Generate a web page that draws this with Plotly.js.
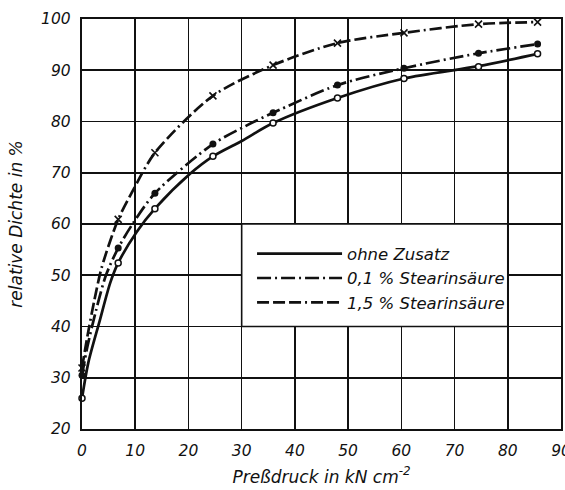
<!DOCTYPE html>
<html>
<head>
<meta charset="utf-8">
<script src="https://cdn.plot.ly/plotly-3.0.1.min.js"></script>
<style>html,body{margin:0;padding:0;background:#fff;overflow:hidden;}#chart{width:565px;height:490px;}</style>
</head>
<body>
<div id="chart"></div>
<script>
// Measured points (pressure in kN cm^-2) and relative density in %
const pressure = [0, 6.8, 13.7, 24.6, 35.9, 48, 60.5, 74.5, 85.6];
const ohneZusatz = [26, 52.4, 63, 73.2, 79.7, 84.6, 88.4, 90.7, 93.2];
const stearin01 = [30.5, 55.3, 66, 75.6, 81.7, 87.1, 90.4, 93.3, 95.1];
const stearin15 = [31.9, 60.9, 73.9, 85, 91, 95.3, 97.3, 99, 99.4];

// Curves
const curveOhneX = [0, 1.2, 3.3, 5.3, 6.8, 10.3, 13.7, 20.3, 24.6, 30, 35.9, 48, 60.5, 74.5, 85.6];
const curveOhneY = [26, 33, 41, 48.5, 52.4, 58.5, 63, 69.8, 73.2, 76.2, 79.7, 84.6, 88.4, 90.8, 93.2];
const curve01X = [0, 1, 2.6, 4.5, 6.8, 9.5, 13.7, 24.6, 30.9, 35.9, 48, 60.5, 74.5, 85.6];
const curve01Y = [30.5, 36, 43, 50, 55.3, 60, 66, 75.6, 79.2, 81.7, 87.1, 90.4, 93.3, 95.1];
const curve15X = [0, 1, 2.3, 3.7, 6.8, 9.5, 13.7, 24.6, 35.9, 48, 60.5, 74.5, 85.6];
const curve15Y = [31.9, 38, 45, 51.5, 60.9, 66.4, 73.9, 85, 91, 95.3, 97.3, 99, 99.4];

const seriesNames = ['ohne Zusatz', '0,1 % Stearinsäure', '1,5 % Stearinsäure'];
const xTicks = [0, 10, 20, 30, 40, 50, 60, 70, 80, 90];
const yTicks = [20, 30, 40, 50, 60, 70, 80, 90, 100];

const FONT = 'DejaVu Sans, Liberation Sans, sans-serif';
const lw = 2.7;

const traces = [
  {x: curveOhneX, y: curveOhneY, name: seriesNames[0], mode: 'lines',
   line: {color: '#111', width: lw, shape: 'spline', smoothing: 0.8}},
  {x: curve01X, y: curve01Y, name: seriesNames[1], mode: 'lines',
   line: {color: '#111', width: lw, shape: 'spline', smoothing: 0.8, dash: '14px,4px,2px,4px'}},
  {x: curve15X, y: curve15Y, name: seriesNames[2], mode: 'lines',
   line: {color: '#111', width: lw, shape: 'spline', smoothing: 0.8, dash: '12px,4px,12px,4px,12px,4px,2px,4px'}},
  {x: pressure, y: ohneZusatz, mode: 'markers', showlegend: false, cliponaxis: false,
   marker: {symbol: 'circle', size: 6, color: '#fff', line: {color: '#111', width: 1.5}}},
  {x: pressure, y: stearin01, mode: 'markers', showlegend: false, cliponaxis: false,
   marker: {symbol: 'circle', size: 7, color: '#111'}},
  {x: pressure, y: stearin15, mode: 'markers', showlegend: false, cliponaxis: false,
   marker: {symbol: 'x-thin', size: 7, line: {color: '#111', width: 1.6}}}
];

const axisCommon = {
  showgrid: true, gridcolor: '#111', gridwidth: 1.6,
  showline: true, linecolor: '#111', linewidth: 2.2, mirror: true,
  zeroline: false, ticks: '', fixedrange: true,
  ticklabeloverflow: 'allow',
  tickfont: {family: FONT, size: 15.5, color: '#111', style: 'italic'}
};

const layout = {
  width: 565, height: 490,
  margin: {l: 82, r: 4, t: 19, b: 61},
  paper_bgcolor: '#fff', plot_bgcolor: '#fff',
  showlegend: true,
  legend: {
    x: 0.355, y: 0.47, xanchor: 'left', yanchor: 'top',
    bgcolor: 'rgba(0,0,0,0)', borderwidth: 0,
    itemwidth: 85, tracegroupgap: 0,
    font: {family: FONT, size: 16.5, color: '#111', style: 'italic'}
  },
  xaxis: Object.assign({}, axisCommon, {
    range: [0, 90], tickvals: xTicks, ticktext: xTicks.map(String),
    ticklabelstandoff: 6,
    title: {text: 'Preßdruck in kN cm<sup>-2</sup>', standoff: 12,
            font: {family: FONT, size: 17, color: '#111', style: 'italic'}}
  }),
  yaxis: Object.assign({}, axisCommon, {
    range: [20, 100], tickvals: yTicks, ticktext: yTicks.map(String),
    ticklabelstandoff: 6,
    title: {text: 'relative Dichte in %', standoff: 14,
            font: {family: FONT, size: 17, color: '#111', style: 'italic'}}
  }),
  shapes: [
    {type: 'rect', xref: 'x', yref: 'y', x0: 30, x1: 80, y0: 40, y1: 60,
     fillcolor: '#fff', line: {color: '#111', width: 1.6}, layer: 'between'}
  ]
};

Plotly.newPlot('chart', traces, layout, {staticPlot: true, displayModeBar: false});
</script>
</body>
</html>
